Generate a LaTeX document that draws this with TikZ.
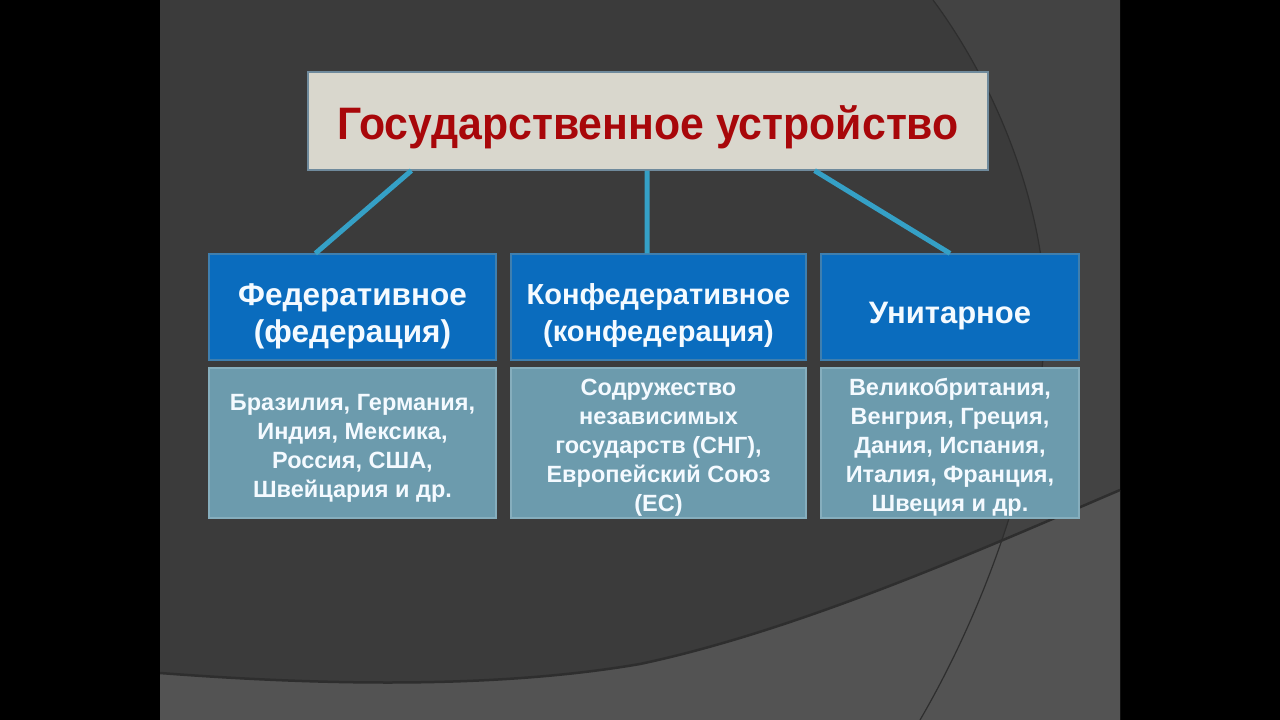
\documentclass[tikz,border=0pt]{standalone}
\usepackage{fontspec}
\setmainfont{Liberation Sans}
\newfontfamily\titlefont[FakeStretch=0.94]{Liberation Sans}
\definecolor{slidebg}{HTML}{3B3B3B}
\definecolor{slidelight}{HTML}{535353}
\definecolor{slidemid}{HTML}{434343}
\definecolor{arcline}{HTML}{2E2E2E}
\definecolor{titlefill}{HTML}{D9D7CD}
\definecolor{titleborder}{HTML}{6F8A9C}
\definecolor{titletext}{HTML}{A8070A}
\definecolor{headfill}{HTML}{0A6CBE}
\definecolor{headborder}{HTML}{3F7FAF}
\definecolor{bodyfill}{HTML}{6C9BAD}
\definecolor{bodyborder}{HTML}{86AEBD}
\definecolor{linkcol}{HTML}{35A0C6}
\definecolor{boxtext}{HTML}{F4FAFF}
\tikzset{
  titlebox/.style={draw=titleborder, line width=1.2bp, fill=titlefill, inner sep=0pt},
  titletxt/.style={text=titletext, inner sep=0pt, font=\titlefont\bfseries\fontsize{45.5bp}{50bp}\selectfont},
  headbox/.style={draw=headborder, line width=1.2bp, fill=headfill, inner sep=0pt, minimum height=106bp},
  headtxt/.style={text=boxtext, align=center, inner sep=0pt},
  bodybox/.style={draw=bodyborder, line width=1.2bp, fill=bodyfill, inner sep=0pt, minimum height=150bp},
  bodytxt/.style={text=boxtext, align=center, inner sep=0pt,
    font=\bfseries\fontsize{23.5bp}{29bp}\selectfont},
  link/.style={draw=linkcol, line width=5bp}
}
\begin{document}
\begin{tikzpicture}[x=1bp,y=-1bp]
\useasboundingbox (0,0) rectangle (1280,720);
% black frame and slide
\fill[black] (0,0) rectangle (1280,720);
\fill[slidebg] (160,0) rectangle (1120,720);
% background decoration
\begin{scope}
\clip (160,0) rectangle (1120,720);
\fill[slidemid] (933,0) .. controls (1000,90) and (1050,220) .. (1045,330)
  .. controls (1040,450) and (990,600) .. (920,720) -- (1120,720) -- (1120,0) -- cycle;
\fill[slidelight] (160,673) .. controls (330,686) and (500,688) .. (640,664)
  .. controls (800,630) and (980,550) .. (1120,490) -- (1120,720) -- (160,720) -- cycle;
\draw[arcline, line width=2.5bp] (160,673) .. controls (330,686) and (500,688) .. (640,664)
  .. controls (800,630) and (980,550) .. (1120,490);
\draw[arcline, line width=1.2bp] (933,0) .. controls (1000,90) and (1050,220) .. (1045,330)
  .. controls (1040,450) and (990,600) .. (920,720);
\end{scope}
% title
\node[titlebox, minimum width=680bp, minimum height=98bp] (title) at (648,121) {};
\node[titletxt] (titlet) at (648,127) {Государственное устройство};
% headers
\node[headbox, minimum width=287bp] (fed) at (352.5,307) {};
\node[headbox, minimum width=295bp] (conf) at (658.5,307) {};
\node[headbox, minimum width=258bp] (unit) at (950,307) {};
\node[headtxt, font=\bfseries\fontsize{31.5bp}{37bp}\selectfont] (fedt) at (352.5,316) {Федеративное\\(федерация)};
\node[headtxt, font=\bfseries\fontsize{29bp}{37bp}\selectfont] (conft) at (658.5,316) {Конфедеративное\\(конфедерация)};
\node[headtxt, font=\bfseries\fontsize{31bp}{37bp}\selectfont] (unitt) at (950,316) {Унитарное};
% bodies
\node[bodybox, minimum width=287bp] (fedb) at (352.5,443) {};
\node[bodybox, minimum width=295bp] (confb) at (658.5,443) {};
\node[bodybox, minimum width=258bp] (unitb) at (950,443) {};
\node[bodytxt] (fedbt) at (352.5,448.5) {Бразилия, Германия,\\Индия, Мексика,\\Россия, США,\\Швейцария и др.};
\node[bodytxt] (confbt) at (658.5,447.5) {Содружество\\независимых\\государств (СНГ),\\Европейский Союз\\(ЕС)};
\node[bodytxt] (unitbt) at (950,447.5) {Великобритания,\\Венгрия, Греция,\\Дания, Испания,\\Италия, Франция,\\Швеция и др.};
% connectors
\draw[link] ([xshift=104bp]title.south west) -- ([xshift=107bp]fed.north west);
\draw[link] ([xshift=-1bp]title.south) -- ([xshift=-11.5bp]conf.north);
\draw[link] ([xshift=-174bp]title.south east) -- (unit.north);
\end{tikzpicture}
\end{document}
